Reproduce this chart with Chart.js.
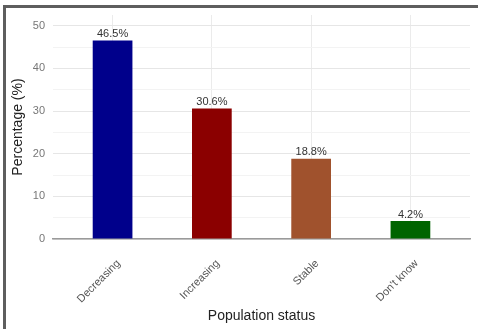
<!DOCTYPE html>
<html>
<head>
<meta charset="utf-8">
<script src="https://cdn.jsdelivr.net/npm/chart.js@4/dist/chart.umd.min.js"></script>
<style>
  html, body { margin: 0; padding: 0; background: #ffffff; }
  #wrap { position: relative; width: 478px; height: 329px; overflow: hidden; }
  #frame {
    position: absolute; left: 3px; top: 5px; width: 490px; height: 340px;
    border-left: 3px solid #5e5e5e; border-top: 3px solid #5e5e5e;
    pointer-events: none;
  }
</style>
</head>
<body>
<div id="wrap">
  <canvas id="chart" width="478" height="329"></canvas>
  <div id="frame"></div>
</div>
<script>
// Survey answers on how the population has changed
const categories = ["Decreasing", "Increasing", "Stable", "Don't know"];
const percentages = [46.5, 30.6, 18.8, 4.2];
const barColors = ["#00008B", "#8B0000", "#A0522D", "#006400"];
const xPositions = [1, 2, 3, 4];
const yTicks = [0, 5, 10, 15, 20, 25, 30, 35, 40, 45, 50];
const yMajorLabels = [0, 10, 20, 30, 40, 50];

const FONT = "'Liberation Sans', Arial, sans-serif";

// Writes the percentage above each bar
const valueLabels = {
  id: 'valueLabels',
  afterDatasetsDraw(chart) {
    const ctx = chart.ctx;
    const meta = chart.getDatasetMeta(0);
    ctx.save();
    ctx.font = "11px " + FONT;
    ctx.fillStyle = "#333333";
    ctx.textAlign = "center";
    ctx.textBaseline = "bottom";
    meta.data.forEach((bar, i) => {
      ctx.fillText(percentages[i].toFixed(1) + "%", bar.x, bar.y - 1);
    });
    ctx.restore();
  }
};

new Chart(document.getElementById('chart'), {
  type: 'bar',
  data: {
    datasets: [{
      data: percentages.map((v, i) => ({ x: xPositions[i], y: v })),
      backgroundColor: barColors,
      borderWidth: 0,
      barPercentage: 0.4,
      categoryPercentage: 1.0
    }]
  },
  options: {
    responsive: false,
    devicePixelRatio: 1,
    animation: false,
    layout: { padding: { left: 0, right: 8, top: 15, bottom: 0 } },
    plugins: {
      legend: { display: false },
      tooltip: { enabled: false }
    },
    scales: {
      x: {
        type: 'linear',
        min: 0.4, max: 4.6,
        offset: false,
        grid: { offset: false, color: "#ebebeb", drawTicks: false, lineWidth: 1 },
        border: { display: true, color: "#9a9a9a", width: 1.5 },
        afterBuildTicks(scale) { scale.ticks = xPositions.map(v => ({ value: v })); },
        ticks: {
          autoSkip: false,
          minRotation: 45, maxRotation: 45,
          color: "#555555",
          font: { family: FONT, size: 11 },
          padding: 18,
          labelOffset: 6,
          callback: (v) => categories[v - 1]
        },
        title: {
          display: true, text: "Population status",
          color: "#222222",
          font: { family: FONT, size: 14 },
          padding: { top: 0, bottom: 4 }
        },
        afterFit(scale) { scale.height = 90; }
      },
      y: {
        min: 0, max: 52.5,
        grid: {
          drawTicks: false,
          color: (c) => (c.tick && c.tick.value % 10 === 0) ? "#e6e6e6" : "#f3f3f3",
          lineWidth: 1
        },
        border: { display: false },
        afterBuildTicks(scale) { scale.ticks = yTicks.map(v => ({ value: v })); },
        ticks: {
          color: "#777777",
          font: { family: FONT, size: 11 },
          padding: 8,
          callback: (v) => yMajorLabels.includes(v) ? String(v) : ""
        },
        title: {
          display: true, text: "Percentage (%)",
          color: "#222222",
          font: { family: FONT, size: 14 },
          padding: { top: 10, bottom: 0 }
        },
        afterFit(scale) { scale.width = 53; }
      }
    }
  },
  plugins: [valueLabels]
});
</script>
</body>
</html>
